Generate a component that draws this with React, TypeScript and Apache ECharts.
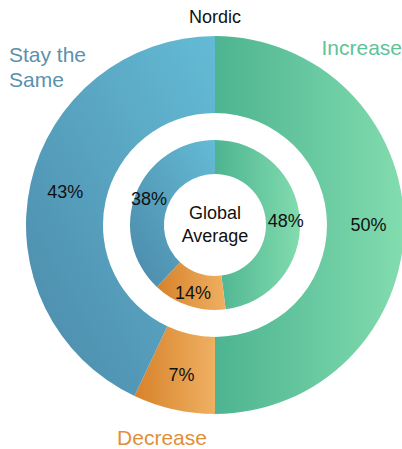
import React, { useEffect, useRef } from "react";
import * as echarts from "echarts";

const categories = ["Increase", "Decrease", "Stay the Same"];
const nordicValues = [50, 7, 43];
const globalValues = [48, 14, 38];
const outerTitle = "Nordic";
const innerTitle = "Global\nAverage";

const FONT = "'Liberation Sans', Arial, sans-serif";

const grad = (x: number, y: number, x2: number, y2: number, c1: string, c2: string) => ({
  type: "linear",
  x,
  y,
  x2,
  y2,
  colorStops: [
    { offset: 0, color: c1 },
    { offset: 1, color: c2 },
  ],
});

const colors = [
  grad(0, 0, 1, 0, "#4db491", "#82dcae"),
  grad(0, 0, 1, 0, "#d7822a", "#efb062"),
  grad(0, 1, 1, 0, "#4b89a9", "#64bbd5"),
];
const labelColors = ["#5fc398", "#e08f38", "#5a92ae"];

export default function App() {
  const ref = useRef<HTMLDivElement>(null);
  useEffect(() => {
    document.body.style.margin = "0";
    const chart = echarts.init(ref.current!, undefined, { renderer: "svg" });
    const mk = (vals: number[]) =>
      vals.map((v, i) => ({ name: categories[i], value: v, itemStyle: { color: colors[i] as any } }));
    const label = {
      show: true,
      position: "inside",
      formatter: "{c}%",
      color: "#111",
      fontSize: 18,
      fontFamily: FONT,
    };
    chart.setOption({
      animation: false,
      series: [
        {
          type: "pie",
          center: [215, 225],
          radius: [112, 189],
          startAngle: 90,
          clockwise: true,
          label,
          labelLine: { show: false },
          emphasis: { disabled: true },
          data: mk(nordicValues),
        },
        {
          type: "pie",
          center: [215, 225],
          radius: [51, 85],
          startAngle: 90,
          clockwise: true,
          label,
          labelLine: { show: false },
          emphasis: { disabled: true },
          data: mk(globalValues),
        },
      ],
      graphic: [
        {
          type: "text",
          x: 215,
          y: 17,
          style: {
            text: outerTitle,
            fill: "#111",
            fontSize: 18,
            fontFamily: FONT,
            align: "center",
            verticalAlign: "middle",
          },
        },
        {
          type: "text",
          x: 215,
          y: 224,
          style: {
            text: innerTitle,
            fill: "#111",
            fontSize: 18,
            lineHeight: 23,
            fontFamily: FONT,
            align: "center",
            verticalAlign: "middle",
          },
        },
        {
          type: "text",
          x: 9,
          y: 67,
          style: {
            text: "Stay the\nSame",
            fill: labelColors[2],
            fontSize: 21,
            lineHeight: 25,
            fontFamily: FONT,
            align: "left",
            verticalAlign: "middle",
          },
        },
        {
          type: "text",
          x: 402,
          y: 47,
          style: {
            text: categories[0],
            fill: labelColors[0],
            fontSize: 21,
            fontFamily: FONT,
            align: "right",
            verticalAlign: "middle",
          },
        },
        {
          type: "text",
          x: 162,
          y: 437,
          style: {
            text: categories[1],
            fill: labelColors[1],
            fontSize: 21,
            fontFamily: FONT,
            align: "center",
            verticalAlign: "middle",
          },
        },
      ],
    });
    return () => chart.dispose();
  }, []);
  return <div ref={ref} style={{ width: 402, height: 449 }} />;
}
